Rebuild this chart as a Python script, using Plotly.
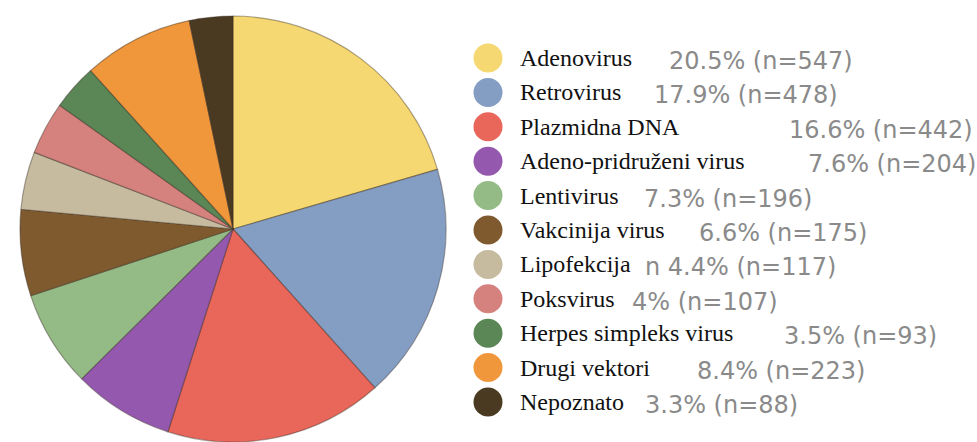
import plotly.graph_objects as go

categories = ["Adenovirus", "Retrovirus", "Plazmidna DNA", "Adeno-pridruženi virus",
              "Lentivirus", "Vakcinija virus", "Lipofekcija", "Poksvirus",
              "Herpes simpleks virus", "Drugi vektori", "Nepoznato"]
counts = [547, 478, 442, 204, 196, 175, 117, 107, 93, 223, 88]
percent_labels = ["20.5%", "17.9%", "16.6%", "7.6%", "7.3%", "6.6%", "4.4%", "4%",
                  "3.5%", "8.4%", "3.3%"]
label_prefix = ["", "", "", "", "", "", "n ", "", "", "", ""]
colors = ["#F6D872", "#849DC3", "#E9665A", "#9459AF", "#94BB86", "#7E5A2E",
          "#C6BA9F", "#D5817D", "#5B8655", "#F1973B", "#4B3A22"]

# layout (screen pixel positions)
W, H = 977, 442
pct_x = [667, 652, 787, 806, 642, 697, 643, 630, 782, 695, 643]
row_y0, row_step = 58, 34.4
dot_x, text_x = 488, 518
pct_dy = 3


def fy(screen_y):
    """screen y (from top) -> paper fraction (from bottom)"""
    return (H - screen_y) / H


fig = go.Figure()
fig.add_trace(go.Pie(
    labels=categories, values=counts, sort=False, direction="clockwise", rotation=0,
    marker=dict(colors=colors, line=dict(color="rgba(50,40,30,0.4)", width=1.2)),
    textinfo="none", hoverinfo="label+value+percent", showlegend=False,
    domain=dict(x=[20 / W, 446 / W], y=[fy(442), fy(16)]),
))

rows_y = [row_y0 + i * row_step for i in range(len(categories))]
fig.add_trace(go.Scatter(
    x=[dot_x] * len(categories), y=rows_y, mode="markers",
    marker=dict(size=29, color=colors, line=dict(width=0)),
    xaxis="x", yaxis="y", showlegend=False, hoverinfo="skip",
))

annotations = []
for i, cat in enumerate(categories):
    annotations.append(dict(
        x=text_x, y=rows_y[i], xref="x", yref="y", text=cat, showarrow=False,
        xanchor="left", yanchor="middle",
        font=dict(family="Liberation Serif", size=24, color="#111111"),
    ))
    annotations.append(dict(
        x=pct_x[i], y=rows_y[i] + pct_dy, xref="x", yref="y",
        text=f"{label_prefix[i]}{percent_labels[i]} (n={counts[i]})", showarrow=False,
        xanchor="left", yanchor="middle",
        font=dict(family="DejaVu Sans", size=24, color="#8a8a8a"),
    ))

fig.update_layout(
    width=W, height=H, margin=dict(l=0, r=0, t=0, b=0),
    paper_bgcolor="white", plot_bgcolor="rgba(0,0,0,0)",
    xaxis=dict(range=[0, W], visible=False, domain=[0, 1], fixedrange=True),
    yaxis=dict(range=[H, 0], visible=False, domain=[0, 1], fixedrange=True),
    annotations=annotations,
)

fig.write_html(
    "out.html",
    config={"displayModeBar": False},
    post_script="document.body.style.margin='0';document.body.style.overflow='hidden';",
)
